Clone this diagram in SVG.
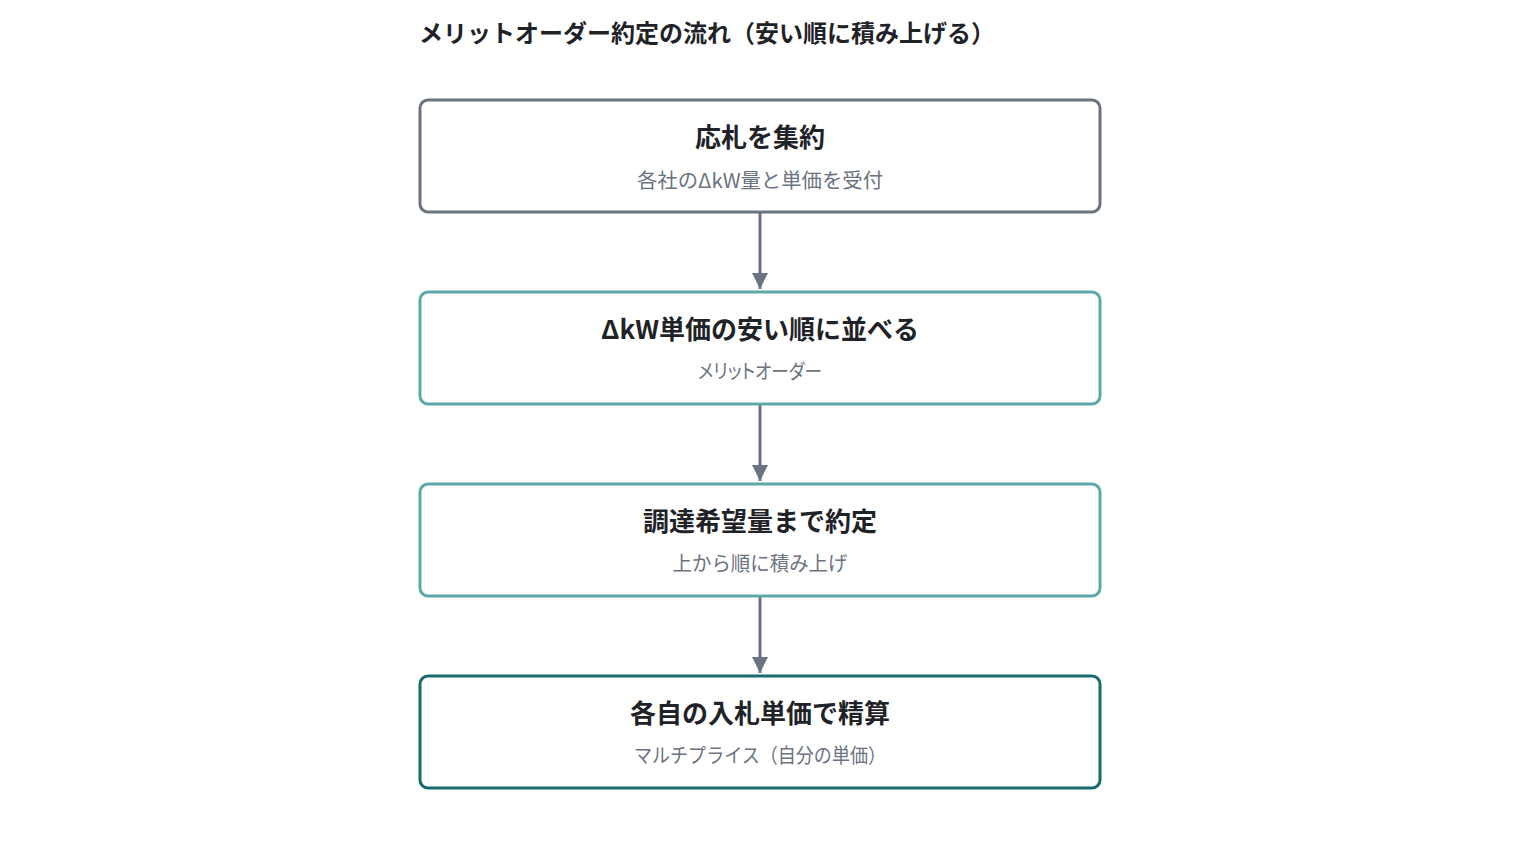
<svg xmlns="http://www.w3.org/2000/svg" width="1520" height="848" viewBox="0 0 1520 848">
<style>
.box{fill:#ffffff;stroke-width:3}
.t{font-family:"Noto Sans CJK JP","Noto Sans",sans-serif;font-weight:700;font-size:26px;fill:#1f2328;text-anchor:middle}
.s{font-family:"Noto Sans CJK JP","Noto Sans",sans-serif;font-size:20px;fill:#6b7280;text-anchor:middle}
.p{font-feature-settings:"palt"}
.h{font-family:"Noto Sans CJK JP","Noto Sans",sans-serif;font-weight:700;font-size:24px;fill:#1f2328}
.c{stroke:#6b7280;stroke-width:3;fill:none}
</style>
<defs>
<marker id="ah" viewBox="0 0 10 10" refX="10" refY="5" markerWidth="5.5" markerHeight="5.5" orient="auto" markerUnits="strokeWidth">
<path d="M0,0 L10,5 L0,10 Z" fill="#6b7280"/>
</marker>
</defs>
<rect width="1520" height="848" fill="#ffffff"/>
<text class="h" x="419" y="42">メリットオーダー約定の流れ（安い順に積み上げる）</text>
<g id="connectors">
<line class="c" x1="760" y1="213" x2="760" y2="289" marker-end="url(#ah)"/>
<line class="c" x1="760" y1="405" x2="760" y2="481" marker-end="url(#ah)"/>
<line class="c" x1="760" y1="597" x2="760" y2="673" marker-end="url(#ah)"/>
</g>
<g id="n1">
<rect class="box" x="420" y="100" width="680" height="112" rx="8" stroke="#6b7280"/>
<text class="t" x="760" y="147">応札を集約</text>
<text class="s" x="760" y="188" textLength="246" lengthAdjust="spacingAndGlyphs">各社のΔkW量と単価を受付</text>
</g>
<g id="n2">
<rect class="box" x="420" y="292" width="680" height="112" rx="8" stroke="#5fa8a8"/>
<text class="t" x="760" y="339">ΔkW単価の安い順に並べる</text>
<text class="s p" x="760" y="379" textLength="124" lengthAdjust="spacingAndGlyphs">メリットオーダー</text>
</g>
<g id="n3">
<rect class="box" x="420" y="484" width="680" height="112" rx="8" stroke="#5fa8a8"/>
<text class="t" x="760" y="531">調達希望量まで約定</text>
<text class="s" x="760" y="571" textLength="175" lengthAdjust="spacingAndGlyphs">上から順に積み上げ</text>
</g>
<g id="n4">
<rect class="box" x="420" y="676" width="680" height="112" rx="8" stroke="#176d6d"/>
<text class="t" x="760" y="723">各自の入札単価で精算</text>
<text class="s" x="760" y="763" textLength="252" lengthAdjust="spacingAndGlyphs">マルチプライス（自分の単価）</text>
</g>
</svg>
